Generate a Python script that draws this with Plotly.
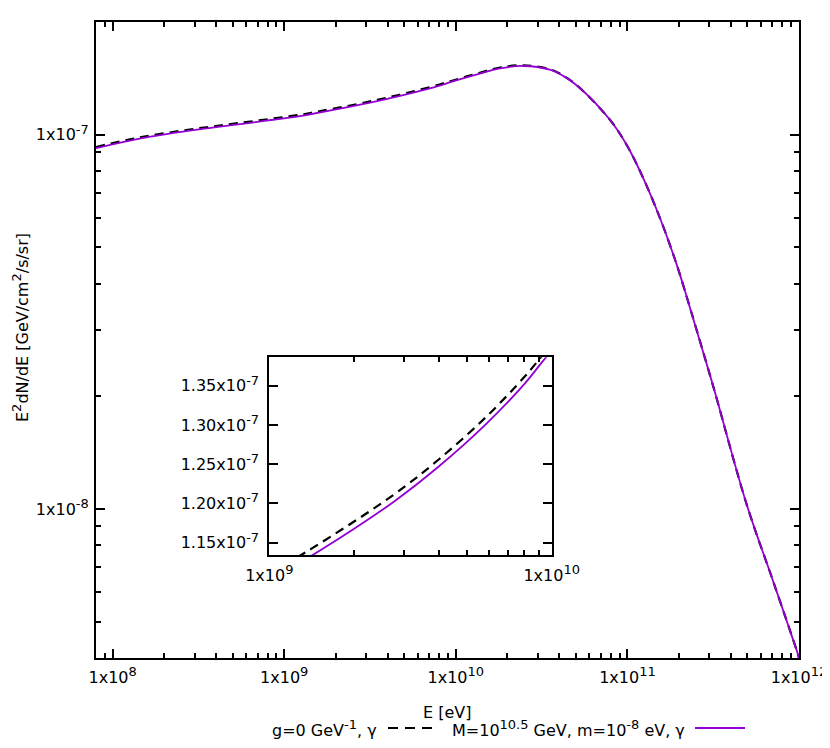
import math
import plotly.graph_objects as go

# ---------------- data ----------------
energy = [8.0e7, 1.435e8, 2.81e8, 5.51e8, 1.23e9, 1.42e9, 2.73e9, 3.98e9,
          5.89e9, 8.04e9, 9.29e9, 1.38e10, 1.81e10, 2.47e10, 3.53e10,
          4.22e10, 5.16e10, 7.91e10, 9.89e10, 1.236e11, 1.55e11, 1.94e11,
          2.26e11, 3.16e11, 4.95e11, 7.08e11, 9.70e11, 1.0e12]

# g = 0 GeV^-1, gamma  (black dashed)
flux_g0 = [9.27e-8, 9.83e-8, 1.032e-7, 1.075e-7, 1.130e-7, 1.143e-7, 1.210e-7,
           1.256e-7, 1.311e-7, 1.362e-7, 1.389e-7, 1.464e-7, 1.512e-7, 1.532e-7,
           1.496e-7, 1.439e-7, 1.346e-7, 1.096e-7, 9.40e-8, 7.66e-8, 5.98e-8,
           4.49e-8, 3.58e-8, 2.13e-8, 1.03e-8, 6.40e-9, 4.19e-9, 4.0e-9]

# M = 10^10.5 GeV, m = 10^-8 eV, gamma  (purple solid)
flux_alp = [9.20e-8, 9.76e-8, 1.025e-7, 1.067e-7, 1.121e-7, 1.134e-7, 1.201e-7,
            1.247e-7, 1.302e-7, 1.353e-7, 1.381e-7, 1.455e-7, 1.504e-7, 1.526e-7,
            1.492e-7, 1.436e-7, 1.345e-7, 1.096e-7, 9.40e-8, 7.66e-8, 5.98e-8,
            4.49e-8, 3.58e-8, 2.13e-8, 1.03e-8, 6.40e-9, 4.19e-9, 4.0e-9]

def sup(s):
    return "<sup><span style='font-size:13px'>%s</span></sup>" % s

series_names = ["g=0 GeV" + sup("-1") + ", γ",
                "M=10" + sup("10.5") + " GeV, m=10" + sup("-8") + " eV, γ"]

# main axes ticks
x_tickvals = [1e8, 1e9, 1e10, 1e11, 1e12]
x_ticktext = ["1x10" + sup(e) for e in ["8", "9", "10", "11", "12"]]
y_tickvals = [1e-8, 1e-7]
y_ticktext = ["1x10" + sup(e) for e in ["-8", "-7"]]

# inset ticks
ix_tickvals = [1e9, 1e10]
ix_ticktext = ["1x10" + sup("9"), "1x10" + sup("10")]
iy_tickvals = [1.15e-7, 1.20e-7, 1.25e-7, 1.30e-7, 1.35e-7]
iy_ticktext = [m + "x10" + sup("-7") for m in ["1.15", "1.20", "1.25", "1.30", "1.35"]]

x_range = [8e7, 1e12]
y_range = [4e-9, 2e-7]
ix_range = [1e9, 1e10]
iy_range = [1.1343e-7, 1.3862e-7]

# ---------------- figure ----------------
OFF = 8                      # page body margin of the browser
W, H = 822, 740
L, T = 96 - OFF, 22 - OFF
R = W - (799 - OFF)
B = H - (658 - OFF)
PW, PH = W - L - R, H - T - B

def px_x(px):                # screen pixel -> paper x
    return (px - OFF - L) / PW

def px_y(py):                # screen pixel -> paper y
    return (H - B - (py - OFF)) / PH

BLACK = "black"
PURPLE = "#9400D3"
FONT = "DejaVu Sans"

fig = go.Figure()

for xa, ya in [("x", "y"), ("x2", "y2")]:
    fig.add_trace(go.Scatter(x=energy, y=flux_g0, mode="lines", name=series_names[0],
                             line=dict(color=BLACK, width=2.2, dash="9px,6px", shape="spline", smoothing=1),
                             xaxis=xa, yaxis=ya, showlegend=False))
    fig.add_trace(go.Scatter(x=energy, y=flux_alp, mode="lines", name=series_names[1],
                             line=dict(color=PURPLE, width=1.8, shape="spline", smoothing=1),
                             xaxis=xa, yaxis=ya, showlegend=False))

minor_x = [m * 10 ** e for e in range(7, 12) for m in range(2, 10)
           if x_range[0] < m * 10 ** e < x_range[1]]
minor_y = [m * 10 ** e for e in range(-9, -6) for m in range(2, 10)
           if y_range[0] < m * 10 ** e < y_range[1]]
minor_ix = [m * 1e9 for m in range(2, 10)]

axis_common = dict(showline=True, linecolor=BLACK, linewidth=2, mirror="ticks",
                   ticks="inside", tickcolor=BLACK, tickwidth=1.5, ticklen=9,
                   showgrid=False, zeroline=False,
                   tickfont=dict(family=FONT, size=16, color=BLACK))

fig.update_layout(
    width=W, height=H, template="none",
    margin=dict(l=L, r=R, t=T, b=B, pad=0),
    paper_bgcolor="white", plot_bgcolor="white",
    font=dict(family=FONT, size=16, color=BLACK),
    showlegend=False,
    xaxis=dict(type="log", range=[math.log10(x_range[0]), math.log10(x_range[1])],
               tickmode="array", tickvals=x_tickvals, ticktext=x_ticktext,
               ticklabelstandoff=4,
               minor=dict(tickmode="array", tickvals=minor_x, ticks="inside", ticklen=5,
                          tickwidth=1.5, tickcolor=BLACK, showgrid=False),
               domain=[0, 1], anchor="y", **axis_common),
    yaxis=dict(type="log", range=[math.log10(y_range[0]), math.log10(y_range[1])],
               tickmode="array", tickvals=y_tickvals, ticktext=y_ticktext,
               ticklabelstandoff=2,
               minor=dict(tickmode="array", tickvals=minor_y, ticks="inside", ticklen=5,
                          tickwidth=1.5, tickcolor=BLACK, showgrid=False),
               domain=[0, 1], anchor="x", **axis_common),
    xaxis2=dict(type="log", range=[math.log10(ix_range[0]), math.log10(ix_range[1])],
                tickmode="array", tickvals=ix_tickvals, ticktext=ix_ticktext,
                ticklabelstandoff=5,
                minor=dict(tickmode="array", tickvals=minor_ix, ticks="inside", ticklen=5,
                           tickwidth=1.5, tickcolor=BLACK, showgrid=False),
                domain=[px_x(269.3), px_x(551.7)], anchor="y2", **axis_common),
    yaxis2=dict(type="linear", range=iy_range,
                tickmode="array", tickvals=iy_tickvals, ticktext=iy_ticktext,
                ticklabelstandoff=5,
                domain=[px_y(555), px_y(357.3)], anchor="x2", **axis_common),
)

# axis titles
fig.add_annotation(text="E" + sup("2") + "dN/dE [GeV/cm" + sup("2") + "/s/sr]", textangle=-90,
                   xref="paper", yref="paper", x=px_x(20), y=px_y(328),
                   xanchor="center", yanchor="middle", showarrow=False,
                   font=dict(family=FONT, size=16, color=BLACK))
fig.add_annotation(text="E [eV]", xref="paper", yref="paper", x=px_x(447), y=px_y(712),
                   xanchor="center", yanchor="middle", showarrow=False,
                   font=dict(family=FONT, size=16, color=BLACK))

# legend (gnuplot style: text then sample)
leg_y = 728
fig.add_annotation(text=series_names[0], xref="paper", yref="paper",
                   x=px_x(379), y=px_y(leg_y), xanchor="right", yanchor="middle",
                   showarrow=False, font=dict(family=FONT, size=16, color=BLACK))
fig.add_shape(type="line", xref="paper", yref="paper", x0=px_x(388), x1=px_x(432),
              y0=px_y(leg_y), y1=px_y(leg_y), line=dict(color=BLACK, width=2.2, dash="10px,7px"))
fig.add_annotation(text=series_names[1], xref="paper", yref="paper",
                   x=px_x(687), y=px_y(leg_y), xanchor="right", yanchor="middle",
                   showarrow=False, font=dict(family=FONT, size=16, color=BLACK))
fig.add_shape(type="line", xref="paper", yref="paper", x0=px_x(695), x1=px_x(745),
              y0=px_y(leg_y), y1=px_y(leg_y), line=dict(color=PURPLE, width=1.8))

fig.write_html("out.html")
